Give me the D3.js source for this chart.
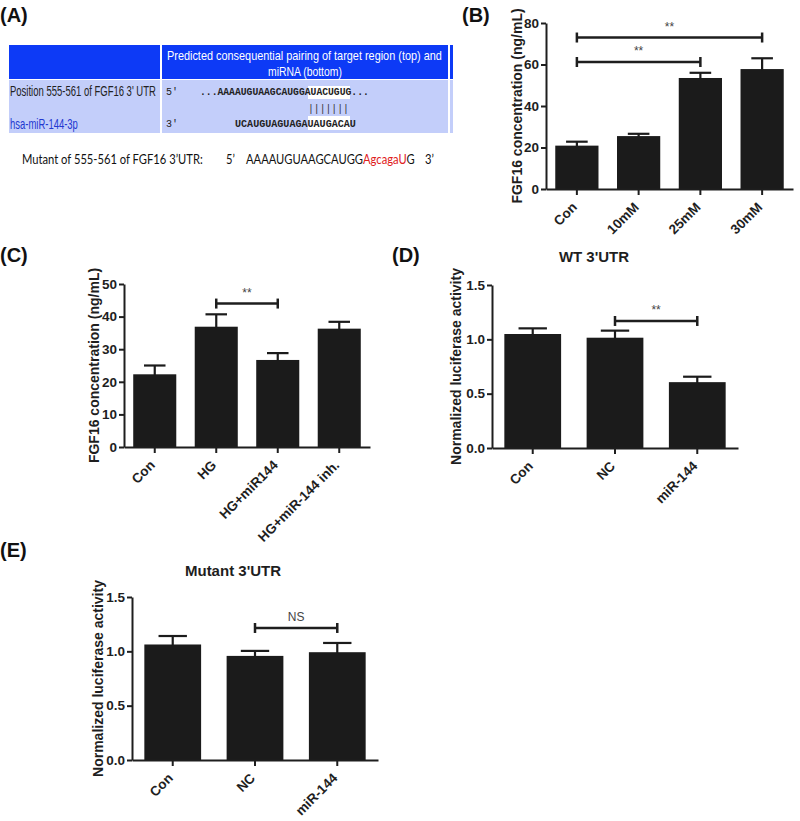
<!DOCTYPE html>
<html>
<head>
<meta charset="utf-8">
<script src="https://cdn.jsdelivr.net/npm/d3@7"></script>
<style>
  html, body { margin: 0; padding: 0; background: #ffffff; }
  svg { display: block; }
  .ax text { font-family: "Liberation Sans", Arial, sans-serif; font-weight: bold; font-size: 13.5px; fill: #1e1e1e; }
  .ax path, .ax line { stroke: #1e1e1e; stroke-width: 2; }
</style>
</head>
<body>
<svg id="fig" width="800" height="821"></svg>
<script>
// ---------- Data ----------
// Panel B
const bCategories = ["Con", "10mM", "25mM", "30mM"];
const bValues = [20.9, 25.5, 53.5, 57.8];
const bSem = [1.9, 1.1, 2.5, 5.2];
const bTicks = [0, 20, 40, 60, 80];
const bSig = [{ from: 0, to: 3, y: 73, label: "**" }, { from: 0, to: 2, y: 61.2, label: "**" }];

// Panel C
const cCategories = ["Con", "HG", "HG+miR144", "HG+miR-144 inh."];
const cValues = [22.3, 36.9, 26.7, 36.3];
const cSem = [2.7, 3.8, 2.1, 2.1];
const cTicks = [0, 10, 20, 30, 40, 50];
const cSig = [{ from: 1, to: 2, y: 44, label: "**" }];

// Panel D
const dCategories = ["Con", "NC", "miR-144"];
const dValues = [1.049, 1.015, 0.606];
const dSem = [0.052, 0.065, 0.05];
const dTicks = [0, 0.5, 1.0, 1.5];
const dSig = [{ from: 1, to: 2, y: 1.169, label: "**" }];

// Panel E
const eCategories = ["Con", "NC", "miR-144"];
const eValues = [1.063, 0.958, 0.992];
const eSem = [0.078, 0.046, 0.085];
const eTicks = [0, 0.5, 1.0, 1.5];
const eSig = [{ from: 1, to: 2, y: 1.215, label: "NS" }];

// ---------- Drawing ----------
const svg = d3.select("#fig");
const SANS = "'Liberation Sans', Arial, sans-serif";

function panelLabel(txt, x, y) {
  svg.append("text").attr("x", x).attr("y", y)
    .attr("font-family", SANS).attr("font-weight", "bold").attr("font-size", 20)
    .attr("fill", "#111").text(txt);
}

// text squeezed horizontally to a target width via a scale transform
function fitText(txt, x, y, width, opts) {
  const t = svg.append("text").attr("x", 0).attr("y", 0)
    .attr("font-family", opts.family).attr("font-size", opts.size)
    .attr("font-weight", opts.weight || "normal").attr("fill", opts.fill || "#222")
    .text(txt);
  const w = t.node().getComputedTextLength();
  const s = w > 0 ? width / w : 1;
  t.attr("transform", `translate(${x},${y}) scale(${s},1)`);
  return t;
}

function barChart(cfg) {
  const g = svg.append("g");
  const x = d3.scaleBand().domain(cfg.categories).range([cfg.x0, cfg.x1])
    .paddingInner(cfg.padInner).paddingOuter(cfg.padOuter);
  const y = d3.scaleLinear().domain([cfg.ticks[0], cfg.ticks[cfg.ticks.length - 1]])
    .range([cfg.yBottom, cfg.yTop]);
  const bw = x.bandwidth();
  const cap = bw * 0.5;

  g.selectAll("rect.bar").data(cfg.categories).join("rect")
    .attr("x", d => x(d)).attr("width", bw)
    .attr("y", (d, i) => y(cfg.values[i]))
    .attr("height", (d, i) => y(0) - y(cfg.values[i]))
    .attr("fill", "#1b1b1b");

  const eb = g.selectAll("g.eb").data(cfg.categories).join("g");
  eb.append("line")
    .attr("x1", d => x(d) + bw / 2).attr("x2", d => x(d) + bw / 2)
    .attr("y1", (d, i) => y(cfg.values[i]) + 1)
    .attr("y2", (d, i) => y(cfg.values[i] + cfg.sem[i]))
    .attr("stroke", "#1b1b1b").attr("stroke-width", 2.2);
  eb.append("line")
    .attr("x1", d => x(d) + bw / 2 - cap / 2).attr("x2", d => x(d) + bw / 2 + cap / 2)
    .attr("y1", (d, i) => y(cfg.values[i] + cfg.sem[i]))
    .attr("y2", (d, i) => y(cfg.values[i] + cfg.sem[i]))
    .attr("stroke", "#1b1b1b").attr("stroke-width", 2.2);

  const yAxis = d3.axisLeft(y).tickValues(cfg.ticks).tickSize(5).tickSizeOuter(0).tickPadding(2)
    .tickFormat(d3.format(cfg.fmt));
  g.append("g").attr("class", "ax").attr("transform", `translate(${cfg.x0},0)`).call(yAxis);

  const xAxis = d3.axisBottom(x).tickSize(6).tickSizeOuter(0);
  const xa = g.append("g").attr("class", "ax").attr("transform", `translate(0,${cfg.yBottom})`).call(xAxis);
  xa.selectAll(".tick text")
    .attr("x", 0).attr("y", 0).attr("dy", null)
    .attr("text-anchor", "end")
    .attr("transform", "translate(1,19) rotate(-45)");

  g.append("text")
    .attr("transform", `translate(${cfg.labelX},${(cfg.yTop + cfg.yBottom) / 2}) rotate(-90)`)
    .attr("text-anchor", "middle").attr("dy", "0.35em")
    .attr("font-family", SANS).attr("font-weight", "bold").attr("font-size", 14)
    .attr("fill", "#1e1e1e").text(cfg.yLabel);

  if (cfg.title) {
    g.append("text").attr("x", cfg.titleX).attr("y", cfg.titleY)
      .attr("text-anchor", "middle")
      .attr("font-family", SANS).attr("font-weight", "bold").attr("font-size", 15)
      .attr("fill", "#1e1e1e").text(cfg.title);
  }

  cfg.sig.forEach(s => {
    const xa1 = x(cfg.categories[s.from]) + bw / 2;
    const xa2 = x(cfg.categories[s.to]) + bw / 2;
    const yy = y(s.y);
    g.append("line").attr("x1", xa1).attr("x2", xa2).attr("y1", yy).attr("y2", yy)
      .attr("stroke", "#1e1e1e").attr("stroke-width", 2.5);
    [xa1, xa2].forEach(xx => g.append("line").attr("x1", xx).attr("x2", xx)
      .attr("y1", yy - 5).attr("y2", yy + 5).attr("stroke", "#1e1e1e").attr("stroke-width", 2.5));
    g.append("text").attr("x", (xa1 + xa2) / 2).attr("y", yy - 7)
      .attr("text-anchor", "middle")
      .attr("font-family", SANS).attr("font-size", 12).attr("fill", "#444")
      .text(s.label);
  });
}

// ---------- Panel A ----------
panelLabel("(A)", 0, 22);
const blue = "#0d3af6";
const light = "#c3cefa";
svg.append("rect").attr("x", 9).attr("y", 45).attr("width", 151).attr("height", 34).attr("fill", blue);
svg.append("rect").attr("x", 162).attr("y", 45).attr("width", 286).attr("height", 34).attr("fill", blue);
svg.append("rect").attr("x", 450).attr("y", 45).attr("width", 3).attr("height", 34).attr("fill", blue);
svg.append("rect").attr("x", 9).attr("y", 80).attr("width", 151).attr("height", 53).attr("fill", light);
svg.append("rect").attr("x", 162).attr("y", 80).attr("width", 286).attr("height", 53).attr("fill", light);
svg.append("rect").attr("x", 450).attr("y", 80).attr("width", 3).attr("height", 53).attr("fill", light);
svg.append("rect").attr("x", 308).attr("y", 86).attr("width", 42).attr("height", 13).attr("fill", "#fff");
svg.append("rect").attr("x", 308).attr("y", 116).attr("width", 42).attr("height", 14).attr("fill", "#fff");

const NARROW = "'Liberation Sans Narrow', 'Liberation Sans', Arial, sans-serif";
const MONO = "'Liberation Mono', 'DejaVu Sans Mono', monospace";
fitText("Predicted consequential pairing of target region (top) and", 167, 60, 275,
  { family: NARROW, size: 12.5, fill: "#fff" });
fitText("miRNA (bottom)", 268, 75.5, 74, { family: NARROW, size: 12.5, fill: "#fff" });
fitText("Position 555-561 of FGF16 3' UTR", 10, 96, 146, { family: NARROW, size: 14, fill: "#222" });
fitText("hsa-miR-144-3p", 10, 129, 68, { family: NARROW, size: 14, fill: "#2238d0" });
svg.append("text").attr("x", 166).attr("y", 95).attr("font-family", MONO).attr("font-size", 10)
  .attr("fill", "#222").text("5'");
svg.append("text").attr("x", 166).attr("y", 127).attr("font-family", MONO).attr("font-size", 10)
  .attr("fill", "#222").text("3'");
fitText("...AAAAUGUAAGCAUGGAUACUGUG...", 200, 95, 169, { family: MONO, size: 10, weight: "bold" });
fitText("|||||||", 308, 112, 41, { family: MONO, size: 11, fill: "#333" });
fitText("UCAUGUAGUAGAUAUGACAU", 235, 127, 121, { family: MONO, size: 10, weight: "bold" });

// mutant line: one text element with positioned spans
const CAL = "Lato, 'Open Sans', sans-serif";
const mut = svg.append("text").attr("x", 0).attr("y", 0)
  .attr("font-family", CAL).attr("font-size", 14).attr("fill", "#111");
mut.append("tspan").text("Mutant of 555-561 of FGF16 3’UTR:");
const natural = mut.node().getComputedTextLength();
const sx = 181 / natural;
mut.attr("transform", `translate(22,164) scale(${sx},1)`);
const lx = v => (v - 22) / sx;
mut.append("tspan").attr("x", lx(226)).text("5’");
mut.append("tspan").attr("x", lx(246)).text("AAAAUGUAAGCAUGG");
mut.append("tspan").attr("fill", "#e0201b").text("AgcagaU");
mut.append("tspan").text("G");
mut.append("tspan").attr("x", lx(425)).text("3’");

// ---------- Panel B ----------
panelLabel("(B)", 462, 22);
barChart({
  categories: bCategories, values: bValues, sem: bSem, ticks: bTicks, fmt: "d", sig: bSig,
  x0: 546, x1: 793, yTop: 23, yBottom: 189, padInner: 0.3, padOuter: 0.15,
  labelX: 517, yLabel: "FGF16 concentration (ng/mL)"
});

// ---------- Panel C ----------
panelLabel("(C)", 0, 262);
barChart({
  categories: cCategories, values: cValues, sem: cSem, ticks: cTicks, fmt: "d", sig: cSig,
  x0: 124, x1: 370, yTop: 284, yBottom: 447, padInner: 0.3, padOuter: 0.15,
  labelX: 94, yLabel: "FGF16 concentration (ng/mL)"
});

// ---------- Panel D ----------
panelLabel("(D)", 392, 262);
barChart({
  categories: dCategories, values: dValues, sem: dSem, ticks: dTicks, fmt: ".1f", sig: dSig,
  x0: 492, x1: 738, yTop: 285, yBottom: 448, padInner: 0.31, padOuter: 0.15,
  labelX: 456, yLabel: "Normalized luciferase activity",
  title: "WT 3'UTR", titleX: 594, titleY: 262
});

// ---------- Panel E ----------
panelLabel("(E)", 0, 557);
barChart({
  categories: eCategories, values: eValues, sem: eSem, ticks: eTicks, fmt: ".1f", sig: eSig,
  x0: 132, x1: 378, yTop: 597, yBottom: 760, padInner: 0.31, padOuter: 0.15,
  labelX: 98, yLabel: "Normalized luciferase activity",
  title: "Mutant 3'UTR", titleX: 233, titleY: 576
});
</script>
</body>
</html>
